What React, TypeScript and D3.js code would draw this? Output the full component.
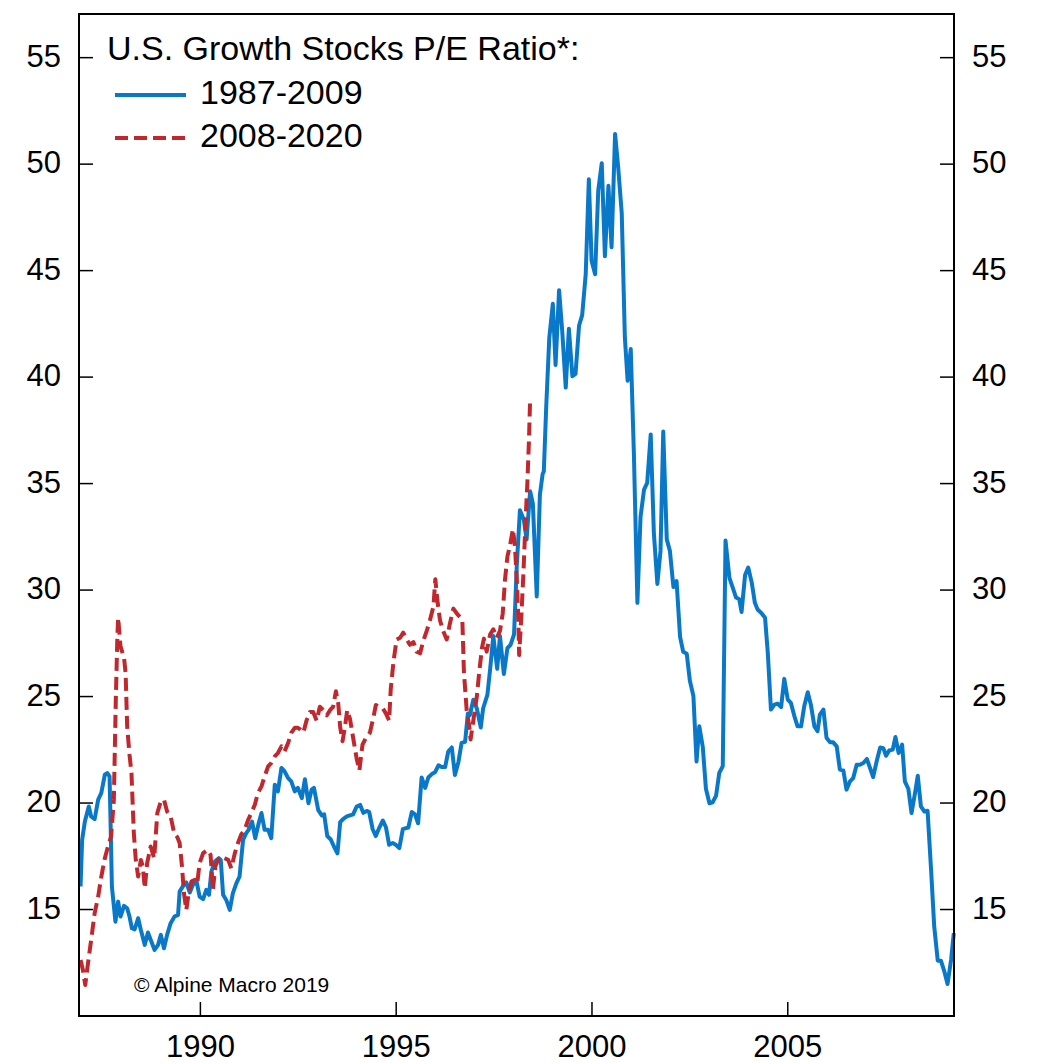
import React from "react";
import * as d3 from "d3";

// Decimal-year positions and values, 1987-2009 series (blue)
const blueDates = [1986.94,1986.98,1987.05,1987.15,1987.21,1987.30,1987.39,1987.47,1987.56,1987.62,1987.68,1987.71,1987.74,1987.83,1987.90,1987.96,1988.05,1988.13,1988.19,1988.25,1988.32,1988.41,1988.48,1988.58,1988.66,1988.75,1988.83,1988.92,1988.99,1989.07,1989.15,1989.24,1989.34,1989.43,1989.47,1989.56,1989.64,1989.73,1989.81,1989.90,1989.98,1990.07,1990.15,1990.22,1990.28,1990.37,1990.47,1990.52,1990.58,1990.66,1990.75,1990.83,1990.92,1991.00,1991.09,1991.17,1991.23,1991.32,1991.40,1991.49,1991.56,1991.64,1991.73,1991.81,1991.90,1991.98,1992.07,1992.15,1992.24,1992.32,1992.41,1992.49,
1992.59,1992.67,1992.76,1992.84,1992.90,1993.01,1993.10,1993.16,1993.24,1993.33,1993.41,1993.50,1993.57,1993.65,1993.74,1993.82,1993.90,1993.99,1994.08,1994.16,1994.25,1994.31,1994.40,1994.48,1994.57,1994.66,1994.74,1994.82,1994.91,1994.99,1995.08,1995.17,1995.25,1995.31,1995.40,1995.48,1995.56,1995.65,1995.74,1995.82,1995.91,1995.99,1996.08,1996.16,1996.25,1996.33,1996.42,1996.50,1996.59,1996.67,1996.76,1996.83,1996.88,1996.97,1997.06,1997.16,1997.22,1997.33,1997.40,1997.48,1997.58,1997.65,1997.75,1997.84,1997.92,1998.01,1998.08,1998.16,1998.26,1998.33,1998.42,1998.49,1998.59,1998.67,1998.74,
1998.77,1998.83,1998.91,1999.00,1999.07,1999.16,1999.24,1999.33,1999.41,1999.50,1999.58,1999.67,1999.75,1999.84,1999.92,1999.99,2000.08,2000.16,2000.25,2000.33,2000.42,2000.50,2000.59,2000.67,2000.76,2000.84,2000.91,2000.99,2001.07,2001.16,2001.24,2001.33,2001.41,2001.50,2001.58,2001.67,2001.75,2001.82,2001.91,2001.99,2002.08,2002.16,2002.25,2002.33,2002.42,2002.50,2002.59,2002.67,2002.74,2002.83,2002.91,2003.00,2003.08,2003.17,2003.25,2003.34,2003.41,2003.51,2003.59,2003.68,2003.76,2003.82,2003.91,2003.99,2004.08,2004.16,
2004.23,2004.32,2004.42,2004.49,2004.57,2004.66,2004.74,2004.83,2004.91,2005.00,2005.08,2005.17,2005.25,2005.34,2005.42,2005.51,2005.59,2005.68,2005.76,2005.82,2005.91,2005.99,2006.08,2006.16,2006.25,2006.33,2006.42,2006.50,2006.59,2006.67,2006.76,2006.84,2006.93,2007.02,2007.10,2007.18,2007.27,2007.36,2007.44,2007.51,2007.59,2007.68,2007.75,2007.83,2007.92,2007.99,2008.08,2008.16,2008.25,2008.32,2008.40,2008.49,2008.57,2008.66,2008.74,2008.83,2008.91,2009.00,2009.08,2009.17,2009.24];
const blueValues = [16.08,18.27,19.13,19.84,19.37,19.25,20.16,20.48,21.33,21.41,21.25,18.74,16.08,14.43,15.37,14.67,15.17,15.06,14.67,14.12,14.07,14.59,14.04,13.34,13.92,13.49,13.10,13.34,13.81,13.18,13.81,14.36,14.67,14.75,15.84,16.11,16.27,15.80,16.16,16.35,15.61,15.49,15.92,15.69,16.78,17.25,17.41,17.33,15.69,15.45,14.98,15.77,16.24,16.55,18.27,18.59,18.74,19.13,18.35,19.06,19.53,18.74,18.74,18.35,20.86,20.55,21.65,21.49,21.17,21.02,20.55,20.71,
20.23,21.12,19.99,20.63,20.71,19.67,19.42,19.47,18.45,18.29,17.96,17.64,19.10,19.26,19.37,19.42,19.47,19.83,19.91,19.54,19.63,19.58,18.77,18.45,18.85,19.18,18.85,18.04,18.12,18.04,17.88,18.77,18.82,18.85,19.58,19.47,19.05,21.20,20.71,21.20,21.36,21.44,21.77,21.69,21.69,22.42,22.61,21.32,21.93,22.82,22.87,24.20,24.12,24.85,24.44,23.55,24.44,25.09,26.30,27.84,26.30,27.84,26.06,27.27,27.43,27.92,31.16,33.75,33.30,32.37,34.64,34.07,29.70,34.48,35.45,
35.57,38.55,41.85,43.44,40.57,44.08,42.17,39.51,42.27,40.04,40.15,42.42,42.91,44.83,49.29,45.46,44.83,48.76,50.04,45.68,48.98,46.10,51.42,49.83,47.70,41.85,39.83,41.32,36.42,29.40,33.44,34.72,35.03,37.31,32.69,30.29,31.84,37.44,32.38,31.84,30.14,30.42,27.80,27.10,27.01,25.74,25.03,21.95,23.61,22.63,20.67,19.99,20.03,20.35,21.41,21.73,32.33,30.57,30.14,29.65,29.57,28.97,30.71,31.06,30.35,29.40,
29.09,28.93,28.70,27.05,24.39,24.62,24.67,24.51,25.83,24.86,24.70,24.07,23.60,23.60,24.54,25.20,24.62,23.60,23.37,24.15,24.39,23.06,22.85,22.85,22.66,21.57,21.53,20.63,21.02,21.17,21.80,21.80,21.88,22.07,21.65,21.22,21.96,22.61,22.58,22.22,22.47,22.51,23.10,22.35,22.74,21.02,20.66,19.53,20.47,21.28,19.84,19.60,19.64,16.86,14.20,12.60,12.60,12.08,11.50,12.63,13.89];

// 2008-2020 series (red dashed), plotted on the same shifted time axis
const redDates = [1986.94,1987.00,1987.06,1987.13,1987.21,1987.30,1987.39,1987.47,1987.56,1987.64,1987.72,1987.79,1987.84,1987.88,1987.90,1987.96,1988.05,1988.09,1988.13,1988.19,1988.24,1988.30,1988.35,1988.41,1988.48,1988.53,1988.58,1988.64,1988.73,1988.82,1988.90,1988.99,1989.07,1989.15,1989.24,1989.33,1989.41,1989.47,1989.53,1989.58,1989.64,1989.70,1989.77,1989.85,1989.92,1989.98,1990.07,1990.18,1990.26,1990.32,1990.38,1990.45,1990.53,1990.62,1990.71,1990.79,1990.88,1990.96,1991.04,1991.13,1991.22,1991.30,1991.39,1991.47,1991.56,1991.64,1991.73,1991.81,1991.90,1991.98,1992.07,1992.15,1992.24,1992.32,1992.41,1992.49,
1992.54,1992.63,1992.71,1992.80,1992.88,1992.97,1993.05,1993.14,1993.23,1993.31,1993.39,1993.46,1993.52,1993.57,1993.63,1993.69,1993.75,1993.82,1993.90,1993.99,1994.06,1994.14,1994.23,1994.33,1994.42,1994.48,1994.57,1994.66,1994.74,1994.82,1994.86,1994.93,1995.01,1995.10,1995.18,1995.27,1995.35,1995.44,1995.52,1995.61,1995.69,1995.78,1995.86,1995.95,1996.00,1996.05,1996.12,1996.20,1996.29,1996.37,1996.46,1996.55,1996.63,1996.69,1996.73,1996.80,1996.87,1996.90,1996.97,1997.06,1997.12,1997.19,1997.24,1997.31,1997.40,1997.48,1997.57,1997.65,1997.72,1997.78,1997.84,1997.91,1997.98,1998.03,1998.08,1998.12,1998.14,1998.20,1998.25,1998.30,1998.35,1998.39,1998.42];
const redValues = [12.63,12.16,11.46,12.48,13.57,14.83,15.61,16.55,17.41,17.96,18.43,20.16,24.86,27.83,28.70,27.36,26.82,26.11,23.60,22.27,21.41,18.59,17.33,16.55,17.33,17.02,16.00,17.18,17.96,17.41,19.53,20.08,20.16,19.60,19.37,18.59,18.40,18.12,17.02,15.77,14.98,15.77,16.31,16.39,16.24,17.18,17.65,17.80,17.57,15.92,17.02,17.33,17.49,17.41,17.33,16.94,17.65,18.12,18.51,18.74,19.21,19.53,19.92,20.47,20.78,21.25,21.72,21.88,22.19,22.35,22.66,22.43,22.82,23.29,23.53,23.53,
23.47,23.31,23.87,24.28,24.28,23.87,24.52,24.36,24.12,24.36,24.52,25.25,24.68,23.55,22.90,23.55,24.36,23.95,23.07,22.09,21.53,22.74,23.07,23.31,24.03,24.60,24.52,24.44,24.20,23.87,25.33,26.62,27.68,27.76,28.00,27.68,27.43,27.56,27.11,27.03,27.60,28.08,28.57,29.22,30.51,29.54,28.57,28.08,27.68,28.41,29.13,28.89,28.73,28.57,26.14,24.36,23.55,22.98,23.87,25.01,26.14,27.27,27.72,27.11,27.92,28.16,27.76,28.08,28.89,30.51,31.57,32.13,32.86,32.13,30.51,28.57,26.95,28.89,30.84,33.10,35.04,36.99,38.93];

const yTicks = [15, 20, 25, 30, 35, 40, 45, 50, 55];
const xTicks = [1990, 1995, 2000, 2005];
const legendTitle = "U.S. Growth Stocks P/E Ratio*:";
const seriesNames = ["1987-2009", "2008-2020"];
const credit = "\u00A9 Alpine Macro 2019";

const BLUE = "#0a78c8";
const RED = "#c1272d";
const FONT = "'Liberation Sans', Arial, Helvetica, sans-serif";

export default function App() {
  const W = 1038, H = 1064;
  const left = 79, right = 954, top = 14, bottom = 1016;
  const x = d3.scaleLinear().domain([1986.9, 2009.245]).range([left, right]);
  const y = d3.scaleLinear().domain([10, 57.05]).range([bottom, top]);
  const mk = (dates: number[], vals: number[]) =>
    d3.line<number>()
      .x((_, i) => x(dates[i]))
      .y((v) => y(v))
      .curve(d3.curveLinear)(vals) || "";
  const tickLen = 14;
  return (
    <svg width={W} height={H} style={{ position: "absolute", left: 0, top: 0, background: "#fff" }} fontFamily={FONT}>
      <rect x={0} y={0} width={W} height={H} fill="#fff" />
      {/* lines */}
      <path d={mk(blueDates, blueValues)} fill="none" stroke={BLUE} strokeWidth={4} strokeLinejoin="round" />
      <path d={mk(redDates, redValues)} fill="none" stroke={RED} strokeWidth={4} strokeDasharray="13,6" strokeLinejoin="round" />
      {/* frame */}
      <rect x={left} y={top} width={right - left} height={bottom - top} fill="none" stroke="#000" strokeWidth={2} />
      {yTicks.map((t) => (
        <g key={"y" + t}>
          <line x1={left} x2={left + tickLen} y1={y(t)} y2={y(t)} stroke="#000" strokeWidth={1.5} />
          <line x1={right - tickLen} x2={right} y1={y(t)} y2={y(t)} stroke="#000" strokeWidth={1.5} />
          <text x={61} y={y(t) + 9} textAnchor="end" fontSize={31} fill="#000">{t}</text>
          <text x={972} y={y(t) + 9} textAnchor="start" fontSize={31} fill="#000">{t}</text>
        </g>
      ))}
      {xTicks.map((t) => (
        <g key={"x" + t}>
          <line x1={x(t)} x2={x(t)} y1={bottom} y2={bottom - tickLen} stroke="#000" strokeWidth={1.5} />
          <text x={x(t)} y={1057} textAnchor="middle" fontSize={31} fill="#000">{t}</text>
        </g>
      ))}
      {/* legend */}
      <text x={107} y={60} fontSize={34} fill="#000">{legendTitle}</text>
      <line x1={115} x2={186} y1={95} y2={95} stroke={BLUE} strokeWidth={4} />
      <text x={200} y={104} fontSize={34} fill="#000">{seriesNames[0]}</text>
      <line x1={115} x2={186} y1={138} y2={138} stroke={RED} strokeWidth={4} strokeDasharray="13,6" />
      <text x={200} y={147} fontSize={34} fill="#000">{seriesNames[1]}</text>
      <text x={134} y={992} fontSize={21} fill="#000">{credit}</text>
    </svg>
  );
}
